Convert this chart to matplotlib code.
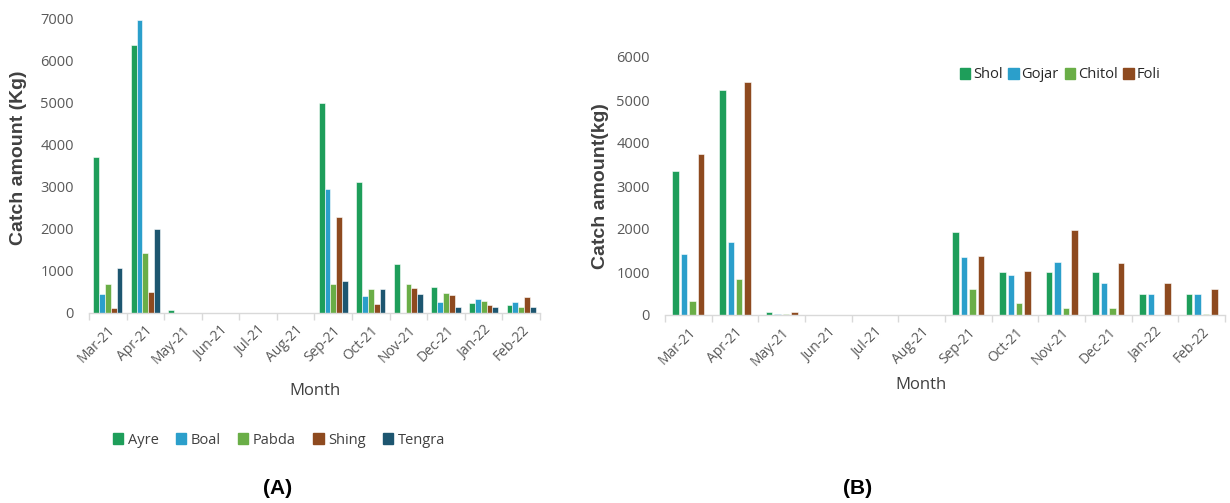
import matplotlib
matplotlib.use("Agg")
import matplotlib.pyplot as plt
import numpy as np
from matplotlib.patches import Patch

months = ["Mar-21", "Apr-21", "May-21", "Jun-21", "Jul-21", "Aug-21",
          "Sep-21", "Oct-21", "Nov-21", "Dec-21", "Jan-22", "Feb-22"]

# Panel A
ayre   = [3720, 6370, 60, 0, 0, 0, 5000, 3120, 1170, 620, 240, 190]
boal   = [460, 6980, 0, 0, 0, 0, 2960, 400, 0, 260, 330, 260]
pabda  = [700, 1440, 0, 0, 0, 0, 680, 580, 680, 475, 290, 140]
shing  = [130, 490, 0, 0, 0, 0, 2290, 220, 590, 430, 200, 380]
tengra = [1070, 2000, 0, 0, 0, 0, 770, 560, 460, 140, 140, 140]

# Panel B
shol   = [3350, 5230, 60, 0, 0, 0, 1920, 990, 990, 990, 480, 480]
gojar  = [1420, 1700, 30, 0, 0, 0, 1350, 930, 1225, 750, 480, 480]
chitol = [330, 845, 30, 0, 0, 0, 600, 270, 155, 155, 0, 20]
foli   = [3740, 5410, 60, 0, 0, 0, 1380, 1020, 1980, 1200, 750, 600]

C_GREEN = "#1E9E5A"
C_BLUE = "#2B9FCB"
C_LGREEN = "#6AAE47"
C_BROWN = "#8E4A1F"
C_TEAL = "#1D5670"

plt.rcParams['font.family'] = ['Open Sans', 'DejaVu Sans']
TXT = "#595959"
AX = "#D9D9D9"

fig = plt.figure(figsize=(12.3, 5.03), dpi=100)
W, H = 1230, 503

def axes_px(x0, x1, ytop, ybot):
    return fig.add_axes([x0 / W, 1 - ybot / H, (x1 - x0) / W, (ybot - ytop) / H])

def style(ax, ymax):
    n = len(months)
    ax.set_xlim(0, n)
    ax.set_ylim(0, ymax)
    for s in ["top", "right", "left"]:
        ax.spines[s].set_visible(False)
    ax.spines["bottom"].set_color(AX)
    ax.spines["bottom"].set_linewidth(1)
    ax.set_xticks(np.arange(n + 1), minor=False)
    ax.set_xticklabels([])
    ax.tick_params(axis="x", which="major", length=5, color=AX, width=1)
    ax.set_xticks(np.arange(n) + 0.5, minor=True)
    ax.set_xticklabels(months, minor=True, rotation=45, ha="right",
                       rotation_mode="anchor", fontsize=10, color=TXT)
    ax.tick_params(axis="x", which="minor", length=0, pad=7)
    ax.tick_params(axis="y", length=0, labelsize=10.5, labelcolor=TXT, pad=11)
    ax.set_yticks(np.arange(0, ymax + 1, 1000))

def bars(ax, series, colors, width, step):
    x = np.arange(len(months)) + 0.5
    k = len(series)
    for i, (vals, c) in enumerate(zip(series, colors)):
        off = (i - (k - 1) / 2) * step
        ax.bar(x + off, vals, width=width, color=c, edgecolor="white",
               linewidth=0.4, align="center")

# Panel A
axA = axes_px(89, 540, 19, 313)
style(axA, 7000)
bars(axA, [ayre, boal, pabda, shing, tengra],
     [C_GREEN, C_BLUE, C_LGREEN, C_BROWN, C_TEAL], 0.155, 0.155)
axA.set_ylabel("Catch amount (Kg)", fontsize=14, fontweight="bold",
               color="#404040", family=["Liberation Sans", "DejaVu Sans"])
axA.yaxis.set_label_coords(-0.137, 0.527)
fig.text(315 / W, 1 - 391 / H, "Month", ha="center", va="center",
         fontsize=12, color="#404040")
handlesA = [Patch(color=c, label=l) for c, l in zip(
    [C_GREEN, C_BLUE, C_LGREEN, C_BROWN, C_TEAL],
    ["Ayre", "Boal", "Pabda", "Shing", "Tengra"])]
fig.legend(handles=handlesA, loc="center", bbox_to_anchor=(279 / W, 1 - 440 / H),
           ncol=5, frameon=False, fontsize=10.5, handlelength=0.7, handleheight=0.7,
           handletextpad=0.3, columnspacing=1.2, labelcolor="#404040")

# Panel B
axB = axes_px(665, 1225, 57, 315)
style(axB, 6000)
bars(axB, [shol, gojar, chitol, foli],
     [C_GREEN, C_BLUE, C_LGREEN, C_BROWN], 0.14, 0.18)
axB.set_ylabel("Catch amount(kg)", fontsize=14, fontweight="bold",
               color="#404040", family=["Liberation Sans", "DejaVu Sans"])
axB.yaxis.set_label_coords(-0.1, 0.5)
fig.text(921 / W, 1 - 385 / H, "Month", ha="center", va="center",
         fontsize=12, color="#404040")
handlesB = [Patch(color=c, label=l) for c, l in zip(
    [C_GREEN, C_BLUE, C_LGREEN, C_BROWN], ["Shol", "Gojar", "Chitol", "Foli"])]
fig.legend(handles=handlesB, loc="center", bbox_to_anchor=(1060 / W, 1 - 75 / H),
           ncol=4, frameon=False, fontsize=10.5, handlelength=0.7, handleheight=0.7,
           handletextpad=0.2, columnspacing=0.4, labelcolor="#262626")

fig.text(278 / W, 1 - 489 / H, "(A)", ha="center", va="center", fontsize=15,
         fontweight="bold", family=["Liberation Sans", "DejaVu Sans"])
fig.text(858 / W, 1 - 489 / H, "(B)", ha="center", va="center", fontsize=15,
         fontweight="bold", family=["Liberation Sans", "DejaVu Sans"])

fig.savefig("out.png", dpi=100, facecolor="white")
